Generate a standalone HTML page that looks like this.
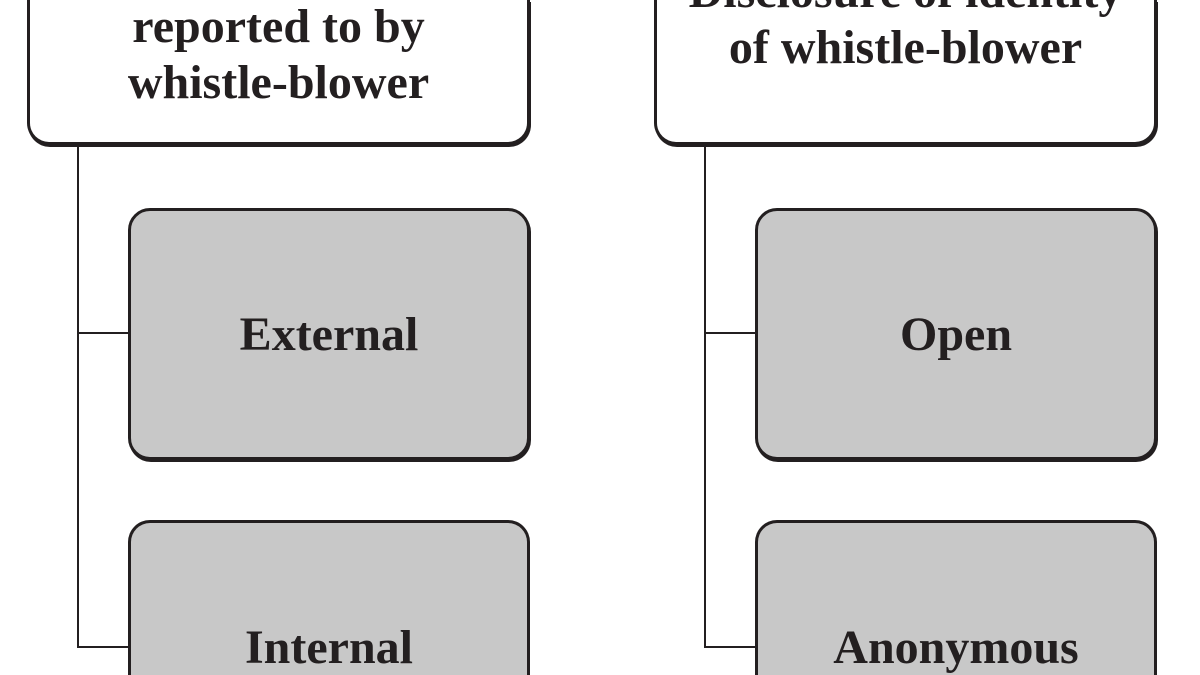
<!DOCTYPE html>
<html><head><style>
html,body{margin:0;padding:0;background:#fff;width:1200px;height:675px;overflow:hidden;}
body{position:relative;font-family:"Liberation Serif",serif;font-weight:bold;color:#231f20;}
.b{position:absolute;box-sizing:border-box;border:3px solid #231f20;border-radius:22px;box-shadow:1px 2px 0 #231f20;display:flex;align-items:center;justify-content:center;text-align:center;overflow:hidden;}
.top{background:#fff;font-size:48px;line-height:56px;border-top:none;border-top-left-radius:0;border-top-right-radius:0;}
.c{background:#c8c8c8;font-size:48px;}
.bot{border-bottom:none;border-bottom-left-radius:0;border-bottom-right-radius:0;box-shadow:none;}
.l{position:absolute;background:#231f20;}
.t{position:absolute;width:100%;left:0;text-align:center;white-space:nowrap;}
</style></head><body>
<div class="b top" style="left:27px;top:0;width:503px;height:145px;"><div class="t" style="top:-57px">Types of organisations<br>reported to by<br>whistle-blower</div></div>
<div class="b top" style="left:654px;top:0;width:503px;height:145px;"><div class="t" style="top:-36px">Disclosure of identity<br>of whistle-blower</div></div>
<div class="l" style="left:77px;top:145px;width:2px;height:503px"></div>
<div class="l" style="left:77px;top:332px;width:51px;height:2px"></div>
<div class="l" style="left:77px;top:646px;width:51px;height:2px"></div>
<div class="l" style="left:704px;top:145px;width:2px;height:503px"></div>
<div class="l" style="left:704px;top:332px;width:51px;height:2px"></div>
<div class="l" style="left:704px;top:646px;width:51px;height:2px"></div>
<div class="b c" style="left:128px;top:208px;width:402px;height:252px;">External</div>
<div class="b c bot" style="left:128px;top:520px;width:402px;height:155px;"><div class="t" style="top:97px">Internal</div></div>
<div class="b c" style="left:755px;top:208px;width:402px;height:252px;">Open</div>
<div class="b c bot" style="left:755px;top:520px;width:402px;height:155px;"><div class="t" style="top:97px">Anonymous</div></div>
</body></html>
